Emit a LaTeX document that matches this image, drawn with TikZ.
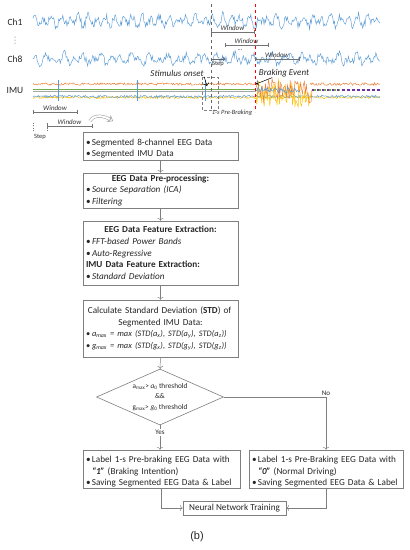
\documentclass[tikz,border=0pt]{standalone}
\usepackage{fontspec}
\setmainfont{Carlito}
\newfontfamily\capfont{Liberation Sans}
\usetikzlibrary{shapes.geometric,arrows.meta}
\definecolor{eegblue}{HTML}{5B9BD5}
\definecolor{imuorange}{HTML}{ED7D31}
\definecolor{imuyellow}{HTML}{FFC000}
\definecolor{imugreen}{HTML}{70AD47}
\definecolor{imupurple}{HTML}{7030A0}
\definecolor{boxgray}{HTML}{7F7F7F}
\newcommand{\bul}{\par\hangindent=6pt\hangafter=1\noindent\makebox[6pt][l]{\textbullet}}

\begin{document}
\begin{tikzpicture}[x=1pt,y=-1pt,
  sig/.style={eegblue,line width=0.45pt},
  win/.style={black!55,line width=0.4pt,|-|},
  lab/.style={font=\fontsize{7}{8}\selectfont\itshape,text=black!80,inner sep=0.5pt},
  small/.style={font=\fontsize{6.5}{7}\selectfont,text=black!80,inner sep=0.5pt},
  tag/.style={font=\fontsize{9}{10}\selectfont\itshape,text=black!85,inner sep=0.5pt},
  chn/.style={font=\fontsize{9.5}{10}\selectfont,text=black!85},
  stage/.style={draw=boxgray,line width=0.6pt,text width=149pt,inner xsep=3pt,inner ysep=0pt,align=left,
    font=\fontsize{9.2}{11.7}\selectfont,text=black!85},
  flow/.style={draw=boxgray,line width=0.5pt,->}]
\useasboundingbox (0,0) rectangle (410,550);
\pgfmathsetseed{11}
% EEG and IMU signals
\node[chn] (ch1) at (15,22) {Ch1};
\draw[sig] plot[domain=33:380,samples=420] (\x,{21+3.5*sin(\x*40)+2.5*sin(\x*27)+4*rand});
\foreach \d in {37,40,43} \fill[black!70] (15,\d) circle (0.5);
\node[chn] (ch8) at (15,59) {Ch8};
\draw[sig] plot[domain=33:380,samples=420] (\x,{59+3*sin(\x*38)+2.5*sin(\x*21)+3.5*rand});
\node[chn] (imu) at (15,90) {IMU};
\draw[imuorange,line width=0.45pt] plot[domain=33:256,samples=250] (\x,{84+1.2*rand});
\draw[imuorange,line width=0.45pt] plot[domain=310:380,samples=80] (\x,{84+1.5*rand});
\draw[imugreen,line width=0.5pt] (33,89) -- (256,89);
\draw[black!35,line width=0.5pt] (33,91.5) -- (256,91.5);
\draw[imuyellow,line width=0.45pt] plot[domain=33:380,samples=400] (\x,{97.5+1.2*rand});
\draw[eegblue,line width=0.45pt] plot[domain=33:380,samples=400] (\x,{96.5+1.3*rand});
\foreach \s in {58,137,205} \draw[eegblue,line width=0.4pt] (\s,80) -- (\s,101);
\draw[imuyellow,line width=0.5pt] plot[domain=256:312,samples=70] (\x,{93+14*rand});
\draw[imuorange,line width=0.45pt] plot[domain=256:312,samples=60] (\x,{91+12*rand});
\draw[eegblue,line width=0.6pt] plot[domain=256:300,samples=40] (\x,{90+3*rand});
\draw[imupurple,line width=1.2pt,dash pattern=on 3pt off 2pt] (312,90) -- (380,90);
\draw[imugreen,line width=1.2pt,dash pattern=on 2pt off 3pt] (314,90) -- (340,90);
% onset and braking marks
\coordinate (onset) at (211,4);
\coordinate (brake) at (255,4);
\draw[black!60,dashed,line width=0.5pt] (onset) -- ++(0,106);
\draw[red,dashed,line width=0.9pt] (brake) -- ++(0,108);
\draw[black!50,densely dashed,line width=0.4pt] (202,77) rectangle (218,110);
\node[small,font=\fontsize{6.5}{7}\selectfont\itshape] (pre) at (232,113) {1-s Pre-Braking};
\node[tag] (stim) at (177,73) {Stimulus onset};
\draw[black,line width=0.5pt,->] (stim.south east) -- (207,86);
\node[tag] (brk) at (284,73) {Braking Event};
\draw[black,line width=0.5pt,->] ([xshift=14pt]brk.south west) -- (256,84);
% windows
\draw[win] (211,32) -- node[lab,above=1pt] (w1) {Window} (254,32);
\draw[win] (225,45) -- node[lab,above=1pt] (w2) {Window} (268,45);
\node[small] (more) at (240,50) {...};
\draw[win] (255,59) -- node[lab,above=1pt] (w3) {Window} (299,59);
\draw[black!60,line width=0.4pt,->] (onset |- 0,59) -- (225,59);
\node[small] (st1) at (218,64) {Step};
\draw[win] (33,112) -- node[lab,above=1pt] (w4) {Window} (77,112);
\draw[win] (47,126) -- node[lab,above=1pt] (w5) {Window} (92,126);
\draw[black!55,dotted] (33,123) -- (33,132);
\draw[black!55,dotted] (47,123) -- (47,132);
\node[small] (st2) at (40,137) {Step};
\draw[black!40,double=white,double distance=2pt,line width=0.5pt,-{Stealth[open,length=5pt,width=8pt]}] (90,121) to[out=60,in=150] (113,121);
% flow chart
\node[stage,minimum height=28pt] (seg) at (160.5,146)
  {\bul Segmented 8-channel EEG Data\bul Segmented IMU Data};
\node[stage,minimum height=35pt] (pre2) at (160.5,190.5)
  {{\centering\textbf{EEG Data Pre-processing:}\par}\bul\textit{Source Separation (ICA)}\bul\textit{Filtering}};
\node[stage,minimum height=64pt] (feat) at (160.5,253)
  {{\centering\textbf{EEG Data Feature Extraction:}\par}\bul\textit{FFT-based Power Bands}\bul\textit{Auto-Regressive}
   \par\noindent\textbf{IMU Data Feature Extraction:}\bul\textit{Standard Deviation}};
\node[stage,minimum height=57pt] (std) at (160.5,328.5)
  {{\centering Calculate Standard Deviation (\textbf{STD}) of\newline Segmented IMU Data:\par}
   {\fontsize{8.4}{11.7}\selectfont
   \bul\textit{a\textsubscript{max} = max (STD(a\textsubscript{x}), STD(a\textsubscript{y}), STD(a\textsubscript{z}))}
   \bul\textit{g\textsubscript{max} = max (STD(g\textsubscript{x}), STD(g\textsubscript{y}), STD(g\textsubscript{z}))}\par}};
\node[draw=boxgray,line width=0.6pt,diamond,aspect=2.27,minimum width=127pt,minimum height=56pt,inner sep=0pt] (chk) at (160,397) {};
\node[align=center,font=\fontsize{7.3}{10.5}\selectfont,text=black!85] (chktxt) at (chk)
  {a\textsubscript{max}> \textit{a}\textsubscript{0} threshold\\\&\&\\g\textsubscript{max}> \textit{g}\textsubscript{0} threshold};
\node[stage,text width=151pt,minimum height=38pt] (lbl1) at (161.5,469)
  {\bul Label 1-s Pre-braking EEG Data with\newline\textbf{\textit{“1”}} (Braking Intention)\bul Saving Segmented EEG Data \& Label};
\node[stage,text width=148pt,minimum height=38pt] (lbl0) at (326,469)
  {\bul Label 1-s Pre-Braking EEG Data with\newline\textbf{\textit{“0”}} (Normal Driving)\bul Saving Segmented EEG Data \& Label};
\node[draw=boxgray,line width=0.6pt,minimum width=103pt,minimum height=14pt,inner sep=0pt,
  font=\fontsize{9.2}{10}\selectfont,text=black!85] (nn) at (234.5,508) {Neural Network Training};
\draw[flow] (seg) -- (pre2);
\draw[flow] (pre2) -- (feat);
\draw[flow] (feat) -- (std);
\draw[flow] (std) -- (chk);
\draw[flow] (chk.south) -- node[pos=0.3,fill=white,inner sep=1pt,font=\fontsize{7}{8}\selectfont,text=black!85] (yes) {Yes} (chk.south |- lbl1.north);
\draw[flow] (chk.east) -| node[pos=0.5,above,inner sep=1.5pt,font=\fontsize{7}{8}\selectfont,text=black!85] (no) {No} (lbl0.north);
\draw[flow] (lbl1.south) |- (nn.west);
\draw[flow] (lbl0.south) |- (nn.east);
\node[font=\capfont\fontsize{11}{12}\selectfont,text=black!85] (cap) at (197,537) {(b)};
\end{tikzpicture}
\end{document}
